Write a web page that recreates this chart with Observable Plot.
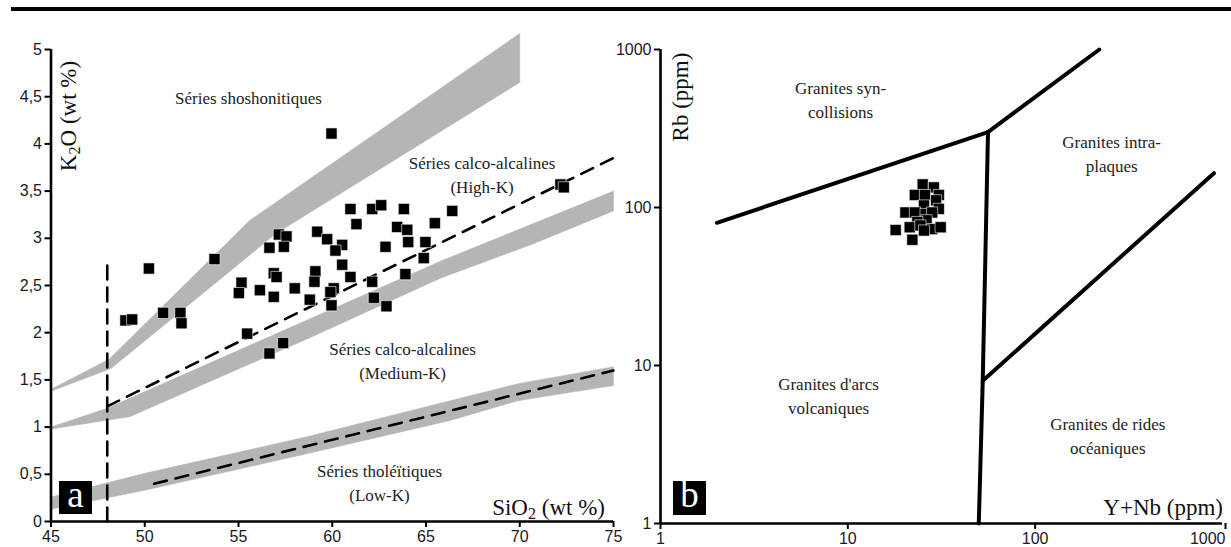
<!DOCTYPE html>
<html><head><meta charset="utf-8">
<script src="https://cdn.jsdelivr.net/npm/d3@7"></script>
<script src="https://cdn.jsdelivr.net/npm/@observablehq/plot@0.6"></script>
<style>
html,body{margin:0;padding:0;background:#fff;}
body{width:1231px;height:547px;overflow:hidden;position:relative;}
#rule{position:absolute;left:11px;right:0;top:7px;height:4px;background:#000;}
.panel{position:absolute;top:0;}
.lbl{position:absolute;font-family:"Liberation Serif","Times New Roman",serif;font-size:23px;color:#111;white-space:nowrap;line-height:1;}
.lbl sub{font-size:70%;vertical-align:-0.25em;line-height:0;}
.box{position:absolute;background:#000;color:#fff;font-family:"Liberation Serif",serif;font-size:37px;width:33px;height:33px;line-height:28px;text-align:center;}
</style></head><body>
<div id="rule"></div>
<div id="pa" class="panel" style="left:0"></div>
<div id="pb" class="panel" style="left:615px"></div>
<div class="lbl" style="left:68px;top:116px;transform:translate(-50%,-50%) rotate(-90deg);">K<sub>2</sub>O (wt %)</div>
<div class="lbl" style="right:626px;top:507px;transform:translateY(-50%);">SiO<sub>2</sub> (wt %)</div>
<div class="lbl" style="left:680px;top:97px;transform:translate(-50%,-50%) rotate(-90deg);">Rb (ppm)</div>
<div class="lbl" style="right:8px;top:507px;transform:translateY(-50%);">Y+Nb (ppm)</div>
<div class="box" style="left:59px;top:481px;">a</div>
<div class="box" style="left:673px;top:481px;height:34px;">b</div>
<script>
// ---------- Panel a : K2O vs SiO2 ----------
const xTicksA = [45, 50, 55, 60, 65, 70, 75];
const yTicksA = [0, 0.5, 1, 1.5, 2, 2.5, 3, 3.5, 4, 4.5, 5];

// grey boundary bands (upper edge, lower edge) as [SiO2, K2O]
const shoUpper = [[45, 1.40], [48.1, 1.72], [55.6, 3.19], [70, 5.17]];
const shoLower = [[45, 1.38], [48.2, 1.62], [57, 3.05], [70, 4.65]];
const hkUpper = [[45, 1.00], [48, 1.20], [58.84, 2.15], [65.8, 2.76], [75, 3.50]];
const hkLower = [[45, 0.98], [49.2, 1.11], [58.84, 1.95], [65.8, 2.58], [70.7, 2.94], [75, 3.29]];
const lkUpper = [[45, 0.26], [50, 0.51], [58.7, 0.90], [66.3, 1.28], [69.9, 1.46], [75, 1.64]];
const lkLower = [[45, 0.13], [50, 0.33], [58.7, 0.72], [66.3, 1.07], [69.9, 1.28], [75, 1.44]];

// dashed lines
const vDash = [[48, 0], [48, 2.75]];
const hkDash = [[48, 1.22], [75, 3.85]];
const lkDash = [[50.5, 0.40], [75, 1.60]];

// samples
const siO2 = [59.96, 53.72, 60.97, 62.13, 62.61, 63.82, 61.29, 63.46, 64.0, 65.47,
  57.15, 57.56, 56.65, 57.42, 59.2, 59.73, 60.53, 60.17, 62.84, 64.05,
  64.97, 64.88, 56.88, 57.03, 59.1, 59.05, 60.53, 60.97, 63.9, 55.16,
  55.02, 56.14, 56.88, 58.0, 58.8, 60.08, 59.9, 59.96, 62.13, 62.22,
  62.89, 55.46, 57.38, 56.65, 66.4, 72.17, 72.35, 50.22, 48.97, 49.33,
  50.98, 51.9, 51.96];
const k2o = [4.11, 2.78, 3.31, 3.31, 3.35, 3.31, 3.15, 3.12, 3.09, 3.16,
  3.04, 3.02, 2.90, 2.91, 3.07, 2.99, 2.93, 2.87, 2.91, 2.96,
  2.96, 2.79, 2.63, 2.59, 2.65, 2.54, 2.72, 2.59, 2.62, 2.53,
  2.42, 2.45, 2.38, 2.47, 2.35, 2.47, 2.43, 2.29, 2.54, 2.37,
  2.28, 1.99, 1.89, 1.78, 3.29, 3.57, 3.54, 2.68, 2.13, 2.14,
  2.21, 2.21, 2.10];

const labelsA = [
  {text: "Séries shoshonitiques", x: 55.53, y: 4.50},
  {text: "Séries calco-alcalines\n(High-K)", x: 67.99, y: 3.69},
  {text: "Séries calco-alcalines\n(Medium-K)", x: 63.75, y: 1.72},
  {text: "Séries tholéïtiques\n(Low-K)", x: 62.52, y: 0.43}
];

// ---------- Panel b : Rb vs Y+Nb ----------
const ticksB = [1, 10, 100, 1000];
const vagSyn = [[2, 80], [56, 300]];
const synWpg = [[56, 300], [220, 1000]];
const vagOrg = [[56, 300], [52.5, 8], [50, 1]];
const orgWpg = [[52.5, 8], [900, 165]];
const yNb = [25.1, 28.8, 22.8, 25.8, 30.6, 29.6, 25.5, 30.6, 20.3, 22.8, 26.0,
  28.2, 26.3, 23.5, 21.4, 24.4, 28.2, 31.3, 18.0, 22.1, 25.5];
const rb = [140, 134, 120, 120, 120, 111, 103, 98, 93, 93, 91,
  93, 83, 81, 75, 77, 73, 75, 72, 62.5, 71.5];
const labelsB = [
  {text: "Granites syn-\ncollisions", x: 9.14, y: 490},
  {text: "Granites intra-\nplaques", x: 256, y: 224},
  {text: "Granites d'arcs\nvolcaniques", x: 7.89, y: 6.55},
  {text: "Granites de rides\nocéaniques", x: 244, y: 3.69}
];

// ---------- helpers ----------
const GRAY = "#b5b5b5";
const poly = (up, lo) => up.concat(lo.slice().reverse());
const px = d => d[0], py = d => d[1];
const commaFmt = d => String(d).replace(".", ",");
const sans = "Liberation Sans, Arial, sans-serif";
const serif = "Liberation Serif, Times New Roman, serif";
const ptsA = siO2.map((x, i) => ({x, y: k2o[i]}));
const ptsB = yNb.map((x, i) => ({x, y: rb[i]}));
const bandFill = {x: px, y: py, fill: GRAY, stroke: GRAY, strokeWidth: 0.5};
const dash = {x: px, y: py, stroke: "#000", strokeWidth: 2.6, strokeDasharray: "13,9"};
const axisOpts = {tickSize: 6, tickPadding: 3, fontSize: 16, fontFamily: sans, strokeWidth: 2, label: null, fill: "#1a1a1a"};
const textOpts = {x: "x", y: "y", text: "text", fontFamily: serif, fontSize: 17, lineHeight: 1.42, fill: "#222"};
const dotOpts = {x: "x", y: "y", symbol: "square", r: 6.3, fill: "#000", stroke: "#fff", strokeWidth: 0.6};

const plotA = Plot.plot({
  width: 615, height: 547,
  marginLeft: 50.5, marginRight: 2, marginTop: 49, marginBottom: 26,
  x: {domain: [xTicksA[0], xTicksA[xTicksA.length - 1]]},
  y: {domain: [yTicksA[0], yTicksA[yTicksA.length - 1]]},
  style: {background: "transparent", overflow: "visible", fontFamily: sans},
  marks: [
    Plot.line(poly(shoUpper, shoLower), bandFill),
    Plot.line(poly(hkUpper, hkLower), bandFill),
    Plot.line(poly(lkUpper, lkLower), bandFill),
    Plot.line(vDash, {...dash, strokeDasharray: "14,8"}),
    Plot.line(hkDash, dash),
    Plot.line(lkDash, dash),
    Plot.dot(ptsA, dotOpts),
    Plot.text(labelsA, textOpts),
    Plot.ruleX([xTicksA[0]], {y1: yTicksA[0], y2: yTicksA[yTicksA.length - 1], strokeWidth: 2.6}),
    Plot.ruleY([yTicksA[0]], {x1: xTicksA[0], x2: xTicksA[xTicksA.length - 1], strokeWidth: 2.6}),
    Plot.axisY({...axisOpts, ticks: yTicksA, tickFormat: commaFmt}),
    Plot.axisX({...axisOpts, ticks: xTicksA, tickFormat: commaFmt})
  ]
});
document.getElementById("pa").append(plotA);

const plotB = Plot.plot({
  width: 616, height: 547,
  marginLeft: 45, marginRight: 9, marginTop: 49, marginBottom: 24,
  x: {type: "log", domain: [ticksB[0], ticksB[ticksB.length - 1]]},
  y: {type: "log", domain: [ticksB[0], ticksB[ticksB.length - 1]]},
  style: {background: "transparent", overflow: "visible", fontFamily: sans},
  marks: [
    Plot.line(vagSyn, {x: px, y: py, stroke: "#000", strokeWidth: 4}),
    Plot.line(synWpg, {x: px, y: py, stroke: "#000", strokeWidth: 4}),
    Plot.line(vagOrg, {x: px, y: py, stroke: "#000", strokeWidth: 4}),
    Plot.line(orgWpg, {x: px, y: py, stroke: "#000", strokeWidth: 4}),
    Plot.dot(ptsB, dotOpts),
    Plot.text(labelsB, textOpts),
    Plot.ruleX([ticksB[0]], {y1: ticksB[0], y2: ticksB[ticksB.length - 1], strokeWidth: 2.6}),
    Plot.ruleY([ticksB[0]], {x1: ticksB[0], x2: ticksB[ticksB.length - 1], strokeWidth: 2.6}),
    Plot.axisY({...axisOpts, ticks: ticksB, tickFormat: d3.format("d")}),
    Plot.axisX({...axisOpts, ticks: ticksB.slice(0, -1), tickFormat: d3.format("d")}),
    Plot.axisX({...axisOpts, ticks: ticksB.slice(-1), tickFormat: d3.format("d"), textAnchor: "end", dx: 3})
  ]
});
document.getElementById("pb").append(plotB);
</script>
</body></html>
